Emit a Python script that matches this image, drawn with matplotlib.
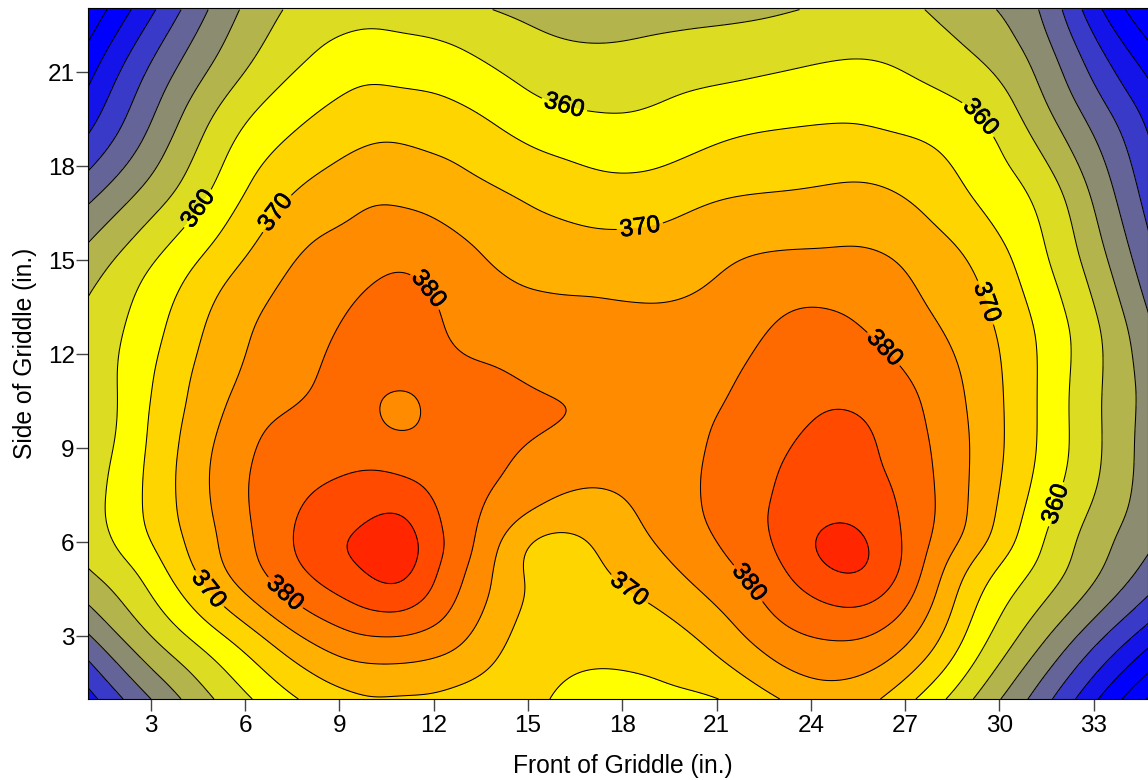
import numpy as np
import matplotlib
matplotlib.use('Agg')
import matplotlib.pyplot as plt
import matplotlib.tri as mtri
import matplotlib.patheffects as pe

plt.rcParams['font.family'] = ['Liberation Sans', 'DejaVu Sans']

side = [1, 3, 5, 6, 7, 9, 10, 11, 13, 15, 17, 19, 21, 23]
front = [1, 3, 5, 7, 9, 10, 11, 12, 13, 15, 17, 19, 21, 23, 25, 27, 29, 31, 33, 35]

# griddle temperature, one row per front position, values follow side
temps = [
    [333, 344.5, 354.5, 357, 358, 356.3, 354.9, 356, 356.2, 352, 344, 335, 328.5, 321],
    [345, 355, 362, 365, 366.2, 365.8, 365.4, 364.8, 363, 359.5, 352.5, 346, 341, 334],
    [355, 363.5, 373, 374.4, 375.3, 375.2, 374, 373, 371, 366.8, 361, 356.7, 351, 346],
    [362.8, 372, 381.5, 383, 383, 381.5, 380, 378, 376.5, 373.4, 369, 364, 358.5, 354.5],
    [368.3, 378.5, 388, 389.8, 387.8, 383, 381.5, 381, 380, 377.5, 373, 368, 363, 358],
    [369.8, 380, 390.5, 391.8, 389.3, 383, 381, 381, 381.5, 378.5, 374.5, 369.3, 364, 358.5],
    [369.5, 380, 391.5, 393, 389.8, 382.2, 378, 380.4, 382.5, 379.3, 374.3, 369.3, 363.5, 358],
    [369.3, 378.5, 385.6, 387, 385.6, 382.3, 381.5, 381.5, 380.8, 378, 373.5, 368.5, 363.2, 357.5],
    [368, 375.5, 380, 381.8, 381.7, 382, 382.5, 382, 378.5, 376.3, 372, 367.5, 362, 356],
    [366, 368, 369.3, 370, 375.3, 379.7, 381.2, 380, 377.3, 373, 369.6, 364, 358.5, 354],
    [363.5, 366.3, 369, 370, 373, 377.5, 379.5, 379, 376.5, 372.5, 367.5, 362, 357, 352.5],
    [364, 367.5, 372.7, 375, 376.5, 378, 378.5, 378.5, 376, 372.5, 367.5, 362, 358, 352.5],
    [364.8, 372, 378, 380, 381, 380.5, 380, 379.3, 376.8, 374.3, 369.7, 364.2, 359, 353.5],
    [370, 378.4, 384, 386, 386, 384.4, 383, 382.5, 380.3, 375.8, 370.5, 365.5, 360, 354.5],
    [373, 380.7, 390.3, 391.8, 389, 386.5, 385.5, 383.9, 380.7, 376, 371.3, 366, 361, 356],
    [366.7, 376.5, 383.8, 384.5, 384.2, 382.8, 382, 380.8, 377, 374.6, 370, 365, 360, 356],
    [356, 364.3, 369.3, 373.5, 375, 375.3, 375, 374.5, 372.7, 370, 365.3, 362.5, 356.8, 352],
    [344.5, 353, 359.8, 362.2, 363.8, 365.9, 366, 366, 365.3, 362.6, 360, 355, 350.5, 346.5],
    [331, 342, 351, 352.5, 354.3, 356.3, 356.2, 356.3, 356, 352.7, 349.5, 345, 339, 332],
    [318, 331, 342, 345, 346.5, 346.5, 347, 347, 344, 340, 336.5, 333.5, 328, 319],
]

levels = [315, 320, 325, 330, 335, 340, 345, 350, 355, 360, 365, 370, 375, 380, 385, 390, 395]
band_colors = ['#0000ff', '#0000ff', '#0000ff', '#1414e8', '#3a3ac8', '#646498', '#8c8c70', '#b4b44c',
               '#dcdc22', '#ffff00', '#ffd500', '#ffb000', '#ff8c00', '#ff6a00', '#ff4a00', '#ff2600']

label_levels = [360, 370, 380]
label_spots = [(16.17, 20.0), (29.3, 19.47), (4.34, 16.76), (31.9, 7.18),
               (18.7, 15.0), (7.0, 16.5), (29.6, 13.66), (4.8, 4.47), (18.2, 4.47),
               (11.6, 13.9), (26.35, 12.2), (7.26, 4.37), (21.8, 4.53)]

X, Y = np.meshgrid(front, side, indexing='ij')
Z = np.array(temps)

# cubic surface through the readings, sampled on a regular mesh
tri = mtri.Triangulation(X.ravel(), Y.ravel())
interp = mtri.CubicTriInterpolator(tri, Z.ravel(), kind='min_E')
step = 0.05
inset = 1e-6  # points exactly on the hull can come back masked
xf = np.linspace(1 + inset, 35 - inset, int(34 / step) + 1)
yf = np.linspace(1 + inset, 23 - inset, int(22 / step) + 1)
XF, YF = np.meshgrid(xf, yf)
ZF = np.asarray(interp(XF, YF))

# light gaussian blur, takes the wiggles out of the hand read values
sigma = 0.35 / step
half = int(3 * sigma)
kernel = np.exp(-0.5 * (np.arange(-half, half + 1) / sigma) ** 2)
kernel /= kernel.sum()
pad = np.pad(ZF, half, mode='reflect', reflect_type='odd')
pad = np.apply_along_axis(np.convolve, 0, pad, kernel, mode='same')
pad = np.apply_along_axis(np.convolve, 1, pad, kernel, mode='same')
ZF = pad[half:-half, half:-half]

fig = plt.figure(figsize=(11.48, 7.8), dpi=100)
ax = fig.add_axes([88 / 1148, 1 - 699 / 780, 1060 / 1148, 691 / 780])

ax.contourf(XF, YF, ZF, levels=levels, colors=band_colors)
plain_levels = [lv for lv in levels if lv not in label_levels]
ax.contour(XF, YF, ZF, levels=plain_levels, colors='black', linewidths=0.75)
cs = ax.contour(XF, YF, ZF, levels=label_levels, colors='black', linewidths=0.75)

# labelled levels drawn on their own, clabel breaks with a subset of levels + manual
labels = ax.clabel(cs, manual=label_spots, inline=True, inline_spacing=3, fontsize=17.5, fmt='%d')
for t in labels:
    t.set_path_effects([pe.withStroke(linewidth=0.5, foreground='black')])

ax.set_xlim(1, 34.73)
ax.set_ylim(1, 23.05)
ax.set_xticks(range(3, 34, 3))
ax.set_yticks(range(3, 22, 3))
ax.tick_params(length=8.6, width=1, color='#444444', labelsize=17.5)
ax.tick_params(axis='x', pad=3)
ax.tick_params(axis='y', pad=1)
ax.set_xlabel('Front of Griddle (in.)', fontsize=17.7, labelpad=12, x=534.5 / 1060)
ax.set_ylabel('Side of Griddle (in.)', fontsize=17.7, labelpad=8)

fig.savefig('out.png', dpi=100)
